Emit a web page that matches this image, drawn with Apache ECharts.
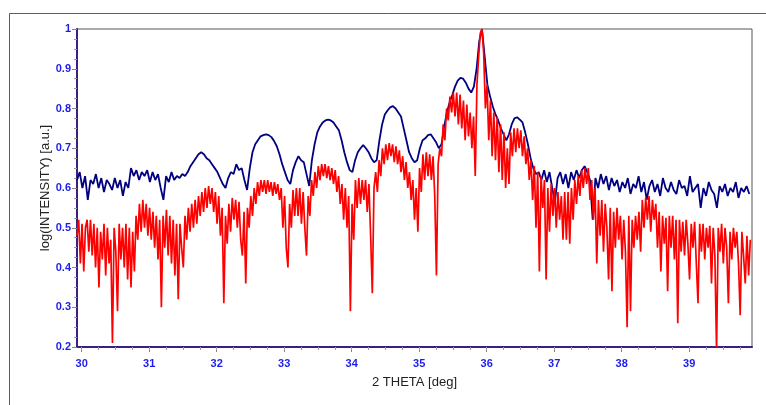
<!DOCTYPE html>
<html>
<head>
<meta charset="utf-8">
<script src="https://cdn.jsdelivr.net/npm/echarts@6/dist/echarts.min.js"></script>
<style>
html,body{margin:0;padding:0;background:#fff;}
#chart{width:766px;height:405px;}
</style>
</head>
<body>
<div id="chart"></div>
<script>
// 2-theta grid of the measurements
const xStart = 29.93;
const navyStep = 0.04;
const redStep = 0.025;
const xMin = 29.93, xMax = 39.93;
const xMajorTicks = [30, 31, 32, 33, 34, 35, 36, 37, 38, 39];
const yTickValues = [0.2, 0.3, 0.4, 0.5, 0.6, 0.7, 0.8, 0.9, 1];

// series 1 (navy), log intensity, step 0.04 deg from 29.93
const navyValues = [
 .62,.64,.60,.63,.57,.62,.61,.635,.60,.625,
 .59,.62,.61,.595,.625,.60,.62,.58,.615,.60,
 .65,.63,.645,.62,.64,.63,.645,.615,.64,.62,
 .635,.60,.57,.63,.615,.64,.62,.63,.625,.635,
 .63,.64,.655,.665,.675,.685,.69,.685,.675,.67,
 .66,.65,.64,.625,.61,.60,.625,.64,.635,.66,
 .645,.65,.62,.595,.65,.69,.71,.72,.73,.733,
 .735,.733,.728,.718,.705,.685,.66,.64,.62,.61,
 .645,.665,.68,.67,.665,.635,.605,.67,.71,.74,
 .755,.765,.77,.772,.77,.765,.755,.745,.72,.69,
 .665,.645,.64,.67,.69,.70,.708,.70,.69,.675,
 .665,.67,.72,.76,.785,.795,.803,.806,.80,.79,
 .78,.75,.72,.69,.675,.665,.67,.70,.72,.725,
 .733,.735,.725,.715,.70,.71,.755,.79,.815,.834,
 .855,.87,.877,.875,.865,.85,.84,.855,.90,.97,
 1.0,.93,.86,.83,.805,.785,.77,.75,.735,.72,
 .735,.76,.775,.778,.772,.765,.74,.71,.675,.65,
 .635,.64,.62,.645,.615,.64,.60,.565,.625,.64,
 .61,.635,.60,.64,.62,.645,.625,.645,.655,.64,
 .62,.52,.625,.60,.635,.61,.63,.595,.625,.605,
 .62,.59,.615,.60,.625,.585,.61,.60,.63,.59,
 .615,.57,.605,.62,.59,.61,.58,.625,.60,.59,
 .615,.595,.585,.62,.60,.605,.58,.63,.59,.60,
 .61,.55,.60,.58,.615,.595,.585,.55,.605,.59,
 .61,.58,.60,.59,.615,.575,.60,.59,.605,.585
];

// series 2 (red), log intensity, step 0.025 deg from 29.93
const redValues = [
 .48,.52,.41,.51,.39,.50,.52,.44,.52,.43,
 .51,.40,.50,.35,.49,.42,.51,.38,.50,.41,
 .47,.21,.50,.44,.29,.51,.42,.50,.40,.51,
 .37,.50,.35,.49,.39,.53,.47,.56,.49,.57,
 .50,.56,.48,.55,.47,.54,.45,.53,.42,.52,
 .30,.53,.45,.545,.43,.53,.41,.52,.38,.51,
 .32,.51,.45,.40,.53,.47,.55,.49,.56,.50,
 .57,.51,.58,.53,.59,.54,.60,.55,.605,.56,
 .60,.54,.59,.51,.58,.48,.55,.31,.53,.46,
 .56,.49,.575,.52,.57,.50,.565,.47,.43,.54,
 .36,.55,.50,.58,.53,.60,.56,.615,.58,.62,
 .59,.62,.585,.62,.59,.615,.58,.615,.585,.61,
 .57,.60,.50,.58,.45,.40,.56,.50,.595,.53,
 .60,.53,.60,.51,.59,.50,.43,.58,.53,.62,
 .58,.64,.60,.655,.62,.66,.63,.66,.625,.655,
 .62,.65,.61,.645,.59,.63,.56,.61,.52,.60,
 .50,.58,.29,.56,.47,.62,.55,.625,.56,.62,
 .57,.62,.54,.61,.48,.335,.60,.64,.59,.67,
 .63,.70,.66,.71,.67,.713,.68,.71,.665,.705,
 .66,.695,.64,.68,.62,.665,.60,.64,.57,.62,
 .52,.60,.49,.65,.59,.685,.62,.69,.63,.685,
 .62,.68,.58,.38,.66,.70,.68,.76,.72,.80,
 .77,.83,.79,.84,.78,.84,.76,.835,.75,.82,
 .72,.81,.73,.79,.70,.78,.63,.86,.93,.99,
 1.0,.94,.80,.86,.72,.82,.68,.79,.67,.78,
 .64,.76,.62,.74,.60,.70,.61,.74,.68,.75,
 .69,.75,.70,.745,.68,.73,.66,.70,.62,.67,
 .57,.655,.50,.64,.39,.63,.55,.62,.37,.60,
 .49,.61,.53,.60,.50,.59,.52,.58,.47,.59,
 .47,.59,.46,.60,.52,.62,.56,.63,.58,.645,
 .60,.65,.61,.65,.57,.62,.52,.60,.41,.57,
 .48,.57,.44,.56,.50,.37,.55,.34,.54,.45,
 .55,.47,.53,.42,.52,.44,.25,.53,.29,.52,
 .45,.53,.47,.54,.44,.57,.50,.575,.52,.58,
 .49,.57,.52,.56,.45,.54,.39,.53,.46,.525,
 .34,.53,.45,.53,.42,.52,.26,.52,.44,.515,
 .43,.52,.46,.37,.51,.45,.515,.41,.31,.51,
 .44,.51,.42,.50,.45,.505,.36,.50,.43,.19,
 .50,.44,.51,.41,.50,.45,.31,.49,.42,.50,
 .45,.49,.41,.28,.49,.43,.36,.48,.38,.47
];

const navyData = navyValues.map((v, i) => [+(xStart + i * navyStep).toFixed(3), v]);
const redData = redValues.map((v, i) => [+(xStart + i * redStep).toFixed(3), v]);
const xMinorTicks = [];
for (let t = 30; t <= 39.9; t += 0.25) xMinorTicks.push(+t.toFixed(2));

const chart = echarts.init(document.getElementById('chart'), null, {renderer: 'canvas'});
const axisPurple = '#3c1f82';
const labelBlue = '#1c1cf0';
chart.setOption({
  animation: false,
  backgroundColor: '#ffffff',
  graphic: [{
    type: 'rect', silent: true, z: 10,
    shape: {x: 9.5, y: 13.5, width: 800, height: 500},
    style: {fill: 'none', stroke: '#5548e0', lineWidth: 1}
  }],
  grid: {left: 77, right: 14, top: 29, bottom: 58, show: true, borderColor: '#555', borderWidth: 1, backgroundColor: 'transparent'},
  xAxis: [{
    type: 'value', min: xMin, max: xMax,
    name: '2 THETA [deg]', nameLocation: 'middle', nameGap: 29,
    nameTextStyle: {fontFamily: 'Liberation Sans, Arial', fontSize: 13, color: '#222'},
    axisLine: {show: true, lineStyle: {color: axisPurple, width: 2}},
    axisTick: {show: true, inside: false, length: 5, customValues: xMajorTicks, lineStyle: {color: '#888'}},
    axisLabel: {show: true, customValues: xMajorTicks, margin: 11, color: labelBlue, fontWeight: 'bold', fontSize: 11, fontFamily: 'Liberation Sans, Arial'},
    splitLine: {show: false}
  }, {
    type: 'value', min: xMin, max: xMax, position: 'bottom', offset: 0,
    axisLine: {show: false},
    axisTick: {show: true, length: 3, customValues: xMinorTicks, lineStyle: {color: '#999'}},
    axisLabel: {show: false},
    splitLine: {show: false}
  }],
  yAxis: {
    type: 'value', min: 0.2, max: 1, interval: 0.1,
    name: 'log(INTENSITY) [a.u.]', nameLocation: 'middle', nameGap: 25, nameMoveOverlap: false,
    nameTextStyle: {fontFamily: 'Liberation Sans, Arial', fontSize: 13, color: '#222'},
    axisLine: {show: true, lineStyle: {color: axisPurple, width: 2}},
    axisTick: {show: true, length: 5, lineStyle: {color: '#888'}},
    minorTick: {show: true, splitNumber: 4, length: 3, lineStyle: {color: '#999'}},
    axisLabel: {margin: 6, color: labelBlue, fontWeight: 'bold', fontSize: 11, fontFamily: 'Liberation Sans, Arial',
      formatter: v => String(+v.toFixed(2))},
    splitLine: {show: false}
  },
  series: [{
    name: 'navy', type: 'line', data: navyData, xAxisIndex: 0,
    showSymbol: false, symbol: 'none', z: 2,
    lineStyle: {color: '#000080', width: 1.8}
  }, {
    name: 'red', type: 'line', data: redData, xAxisIndex: 0,
    showSymbol: false, symbol: 'none', z: 3,
    lineStyle: {color: '#ff0000', width: 1.7}
  }]
});
</script>
</body>
</html>
